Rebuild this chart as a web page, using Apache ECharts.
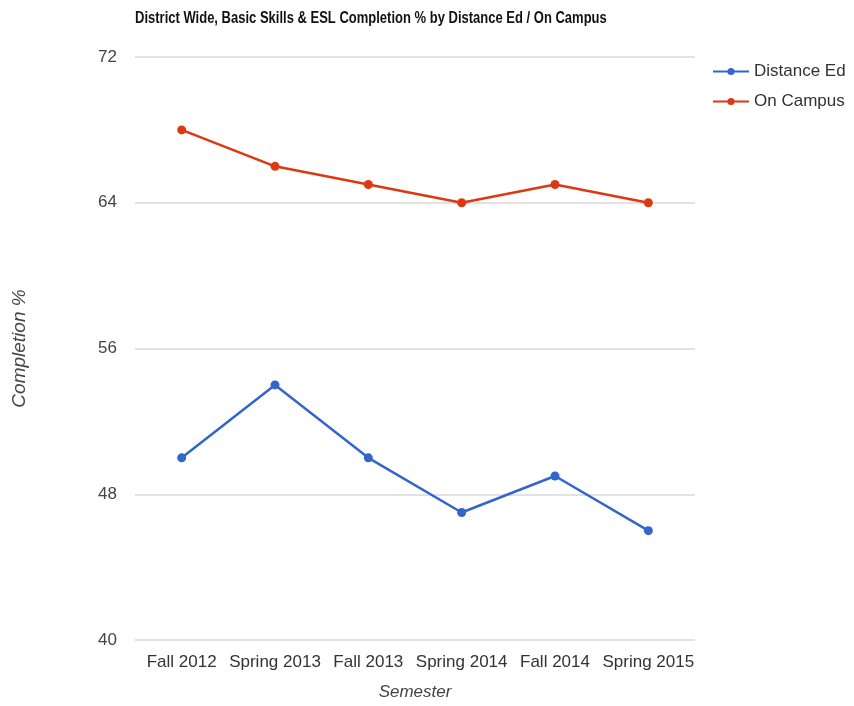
<!DOCTYPE html>
<html>
<head>
<meta charset="utf-8">
<script src="https://cdn.jsdelivr.net/npm/echarts@6/dist/echarts.min.js"></script>
<style>
  html, body { margin: 0; padding: 0; background: #fff; }
  #main { width: 854px; height: 706px; }
</style>
</head>
<body>
<div id="main"></div>
<script>
const semesters = ['Fall 2012', 'Spring 2013', 'Fall 2013', 'Spring 2014', 'Fall 2014', 'Spring 2015']
const distanceEd = [50, 54, 50, 47, 49, 46]
const onCampus = [68, 66, 65, 64, 65, 64]
const yTicks = [40, 48, 56, 64, 72]

const font = 'Liberation Sans, Arial, sans-serif'
const chart = echarts.init(document.getElementById('main'))

const lineSeries = (name, data, color) => ({
  name: name,
  type: 'line',
  data: data,
  symbol: 'circle',
  symbolSize: 9,
  lineStyle: { width: 2.5, color: color },
  itemStyle: { color: color }
})

chart.setOption({
  animation: false,
  // title squeezed horizontally, the original uses a condensed face
  graphic: [{
    type: 'text',
    x: 135,
    y: 10,
    scaleX: 0.765,
    style: {
      text: 'District Wide, Basic Skills & ESL Completion % by Distance Ed / On Campus',
      font: 'bold 17px Liberation Sans, Arial, sans-serif',
      fill: '#111'
    }
  }],
  legend: {
    orient: 'vertical',
    left: 707,
    top: 58,
    itemGap: 13,
    itemWidth: 36,
    itemHeight: 9,
    textStyle: { fontFamily: font, fontSize: 17, color: '#333' },
    data: ['Distance Ed', 'On Campus']
  },
  grid: { left: 135, right: 159, top: 57, bottom: 66, containLabel: false },
  xAxis: {
    type: 'category',
    data: semesters,
    boundaryGap: true,
    name: 'Semester',
    nameLocation: 'middle',
    nameGap: 44,
    nameTextStyle: { fontFamily: font, fontSize: 17, fontStyle: 'italic', color: '#444' },
    axisLine: { show: false },
    axisTick: { show: false },
    axisLabel: { fontFamily: font, fontSize: 17, color: '#333', margin: 14, interval: 0 }
  },
  yAxis: {
    type: 'value',
    min: yTicks[0],
    max: yTicks[yTicks.length - 1],
    interval: 8,
    name: 'Completion %',
    nameLocation: 'middle',
    nameGap: 106,
    nameTextStyle: { fontFamily: font, fontSize: 19, fontStyle: 'italic', color: '#444' },
    axisLine: { show: false },
    axisTick: { show: false },
    axisLabel: { fontFamily: font, fontSize: 17, color: '#444', margin: 18 },
    splitLine: { lineStyle: { color: '#d9d9d9', width: 1.5 } }
  },
  series: [
    lineSeries('Distance Ed', distanceEd, '#3366cc'),
    lineSeries('On Campus', onCampus, '#dc3912')
  ]
})
</script>
</body>
</html>
